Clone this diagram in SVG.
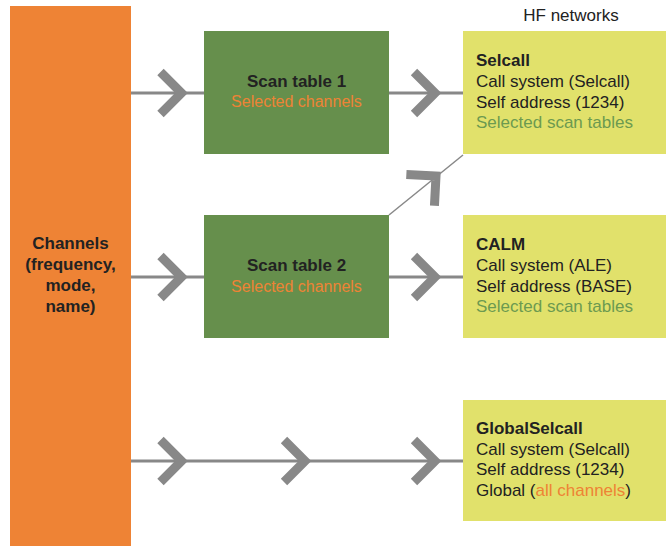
<svg xmlns="http://www.w3.org/2000/svg" width="666" height="546" viewBox="0 0 666 546">
<style>
text{font-family:"Liberation Sans",Arial,sans-serif;fill:#222}
.b{font-weight:bold;font-size:17px}
.r{font-size:17px}
.s{font-size:16px}
.o{fill:#EE8335}
.g{fill:#6C9A50}
.ln{stroke:#888;stroke-width:3;fill:none}
.chev{stroke:#888;stroke-width:9;fill:none;stroke-linejoin:miter;stroke-miterlimit:4}
.green{fill:#668F4C}
.yel{fill:#E1E16B}
</style>
<defs>
<path id="cv" class="chev" d="M-21,-21 L0,0 L-21,21"/>
</defs>
<rect width="666" height="546" fill="#fff"/>
<g id="connectors">
<line class="ln" x1="131" y1="93" x2="204" y2="93"/>
<line class="ln" x1="389" y1="93" x2="463" y2="93"/>
<line class="ln" x1="131" y1="277" x2="204" y2="277"/>
<line class="ln" x1="389" y1="277" x2="463" y2="277"/>
<line class="ln" x1="131" y1="461" x2="463" y2="461"/>
<line x1="389" y1="215" x2="463" y2="155" stroke="#888" stroke-width="1.5"/>
<use href="#cv" x="181.5" y="93"/>
<use href="#cv" x="435" y="93"/>
<use href="#cv" x="181.5" y="277"/>
<use href="#cv" x="435" y="277"/>
<use href="#cv" x="181.5" y="461"/>
<use href="#cv" x="305" y="461"/>
<use href="#cv" x="435" y="461"/>
<use href="#cv" transform="translate(436,176) rotate(-42)"/>
</g>
<g id="channels">
<rect x="10" y="6" width="121" height="540" fill="#EE8335"/>
<text class="b" text-anchor="middle" x="70.5" y="249">Channels</text>
<text class="b" text-anchor="middle" x="70.5" y="270">(frequency,</text>
<text class="b" text-anchor="middle" x="70.5" y="291">mode,</text>
<text class="b" text-anchor="middle" x="70.5" y="312">name)</text>
</g>
<g id="scan1">
<rect class="green" x="204" y="31" width="185" height="123"/>
<text class="b" text-anchor="middle" x="296.5" y="87">Scan table 1</text>
<text class="s o" text-anchor="middle" x="296.5" y="107">Selected channels</text>
</g>
<g id="scan2">
<rect class="green" x="204" y="215" width="185" height="123"/>
<text class="b" text-anchor="middle" x="296.5" y="271">Scan table 2</text>
<text class="s o" text-anchor="middle" x="296.5" y="292">Selected channels</text>
</g>
<text class="r" text-anchor="middle" x="571" y="21">HF networks</text>
<g id="selcall">
<rect class="yel" x="463" y="31" width="203" height="123"/>
<text class="b" x="476" y="66">Selcall</text>
<text class="r" x="476" y="87">Call system (Selcall)</text>
<text class="r" x="476" y="107.5">Self address (1234)</text>
<text class="r g" x="476" y="128">Selected scan tables</text>
</g>
<g id="calm">
<rect class="yel" x="463" y="215" width="203" height="123"/>
<text class="b" x="476" y="250">CALM</text>
<text class="r" x="476" y="271">Call system (ALE)</text>
<text class="r" x="476" y="291.5">Self address (BASE)</text>
<text class="r g" x="476" y="312">Selected scan tables</text>
</g>
<g id="global">
<rect class="yel" x="463" y="400" width="203" height="121"/>
<text class="b" x="476" y="434">GlobalSelcall</text>
<text class="r" x="476" y="454.5">Call system (Selcall)</text>
<text class="r" x="476" y="475">Self address (1234)</text>
<text class="r" x="476" y="496">Global (<tspan class="o">all channels</tspan>)</text>
</g>
</svg>
